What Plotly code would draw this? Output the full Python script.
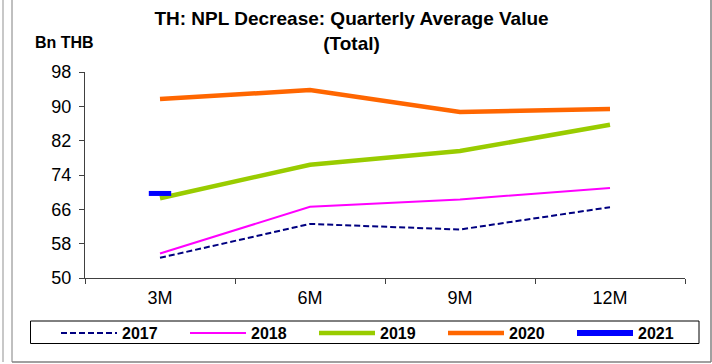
import plotly.graph_objects as go

# Quarterly average NPL decrease value, Bn THB
periods = ["3M", "6M", "9M", "12M"]
y2017 = [54.7, 62.6, 61.3, 66.5]
y2018 = [55.7, 66.6, 68.3, 71.0]
y2019 = [68.6, 76.4, 79.6, 85.7]
y2020 = [91.7, 93.8, 88.7, 89.4]
y2021 = [69.7]
y_ticks = [50, 58, 66, 74, 82, 90, 98]

W, H = 712, 364
L, R, T, B = 85, 685, 72, 278  # plot area in pixels


def px(x):
    return (x - L) / (R - L)


def py(y):
    return (B - y) / (B - T)


fig = go.Figure()
fig.add_trace(go.Scatter(x=periods, y=y2017, name="2017", mode="lines",
                         line=dict(color="#000080", width=2, dash="6px,3px")))
fig.add_trace(go.Scatter(x=periods, y=y2018, name="2018", mode="lines",
                         line=dict(color="#FF00FF", width=2)))
fig.add_trace(go.Scatter(x=periods, y=y2019, name="2019", mode="lines",
                         line=dict(color="#99CC00", width=4.5)))
fig.add_trace(go.Scatter(x=periods, y=y2020, name="2020", mode="lines",
                         line=dict(color="#FF6600", width=4.5)))
fig.add_trace(go.Scatter(x=periods[:len(y2021)], y=y2021, name="2021", mode="lines+markers",
                         line=dict(color="#0000FF", width=6),
                         marker=dict(symbol="line-ew", size=16,
                                     line=dict(color="#0000FF", width=5))))

font = "Arial, Liberation Sans, sans-serif"

shapes = [
    # outer frame
    dict(type="line", xref="paper", yref="paper", x0=px(3), x1=px(3), y0=py(0), y1=py(362),
         line=dict(color="#C8C8C8", width=2)),
    dict(type="line", xref="paper", yref="paper", x0=px(12), x1=px(12), y0=py(0), y1=py(362),
         line=dict(color="#808080", width=1)),
    dict(type="line", xref="paper", yref="paper", x0=px(12), x1=px(711), y0=py(362), y1=py(362),
         line=dict(color="#808080", width=1.5)),
    dict(type="line", xref="paper", yref="paper", x0=px(711), x1=px(711), y0=py(0), y1=py(362),
         line=dict(color="#808080", width=1.5)),
    # legend box
    dict(type="rect", xref="paper", yref="paper", x0=px(30.5), x1=px(699), y0=py(321), y1=py(343.5),
         line=dict(color="#000000", width=1)),
]

fig.update_layout(
    width=W, height=H,
    margin=dict(l=L, r=W - R, t=T, b=H - B),
    paper_bgcolor="white", plot_bgcolor="white",
    font=dict(family=font, size=17, color="black"),
    title=dict(text="<b>TH: NPL Decrease: Quarterly Average Value<br>(Total)</b>",
               x=351.5 / W, xanchor="center", xref="container",
               y=1 - 25 / H, yanchor="top", yref="container",
               font=dict(family=font, size=19, color="black")),
    xaxis=dict(type="category", categoryorder="array", categoryarray=periods,
               range=[-0.5, 3.5], tickson="boundaries", ticks="outside", ticklen=5,
               tickcolor="#404040", showline=True, linecolor="#404040", linewidth=1,
               showgrid=False, zeroline=False, tickfont=dict(size=18),
               ticklabelstandoff=3),
    yaxis=dict(range=[50, 98], tickvals=y_ticks, ticks="outside", ticklen=5,
               tickcolor="#404040", showline=True, linecolor="#404040", linewidth=1,
               showgrid=False, zeroline=False, tickfont=dict(size=18),
               ticklabelstandoff=4),
    showlegend=True,
    legend=dict(orientation="h", x=px(56), xanchor="left", y=py(333), yanchor="middle",
                entrywidth=58, entrywidthmode="pixels", traceorder="normal",
                font=dict(family=font, size=16, color="black", weight="bold"),
                bgcolor="rgba(0,0,0,0)", borderwidth=0, itemwidth=56),
    shapes=shapes,
    annotations=[dict(text="<b>Bn THB</b>", xref="paper", yref="paper",
                      x=px(33), y=py(42.5), xanchor="left", yanchor="middle",
                      showarrow=False, font=dict(family=font, size=16, color="black"))],
)

fig.write_html("out.html")
